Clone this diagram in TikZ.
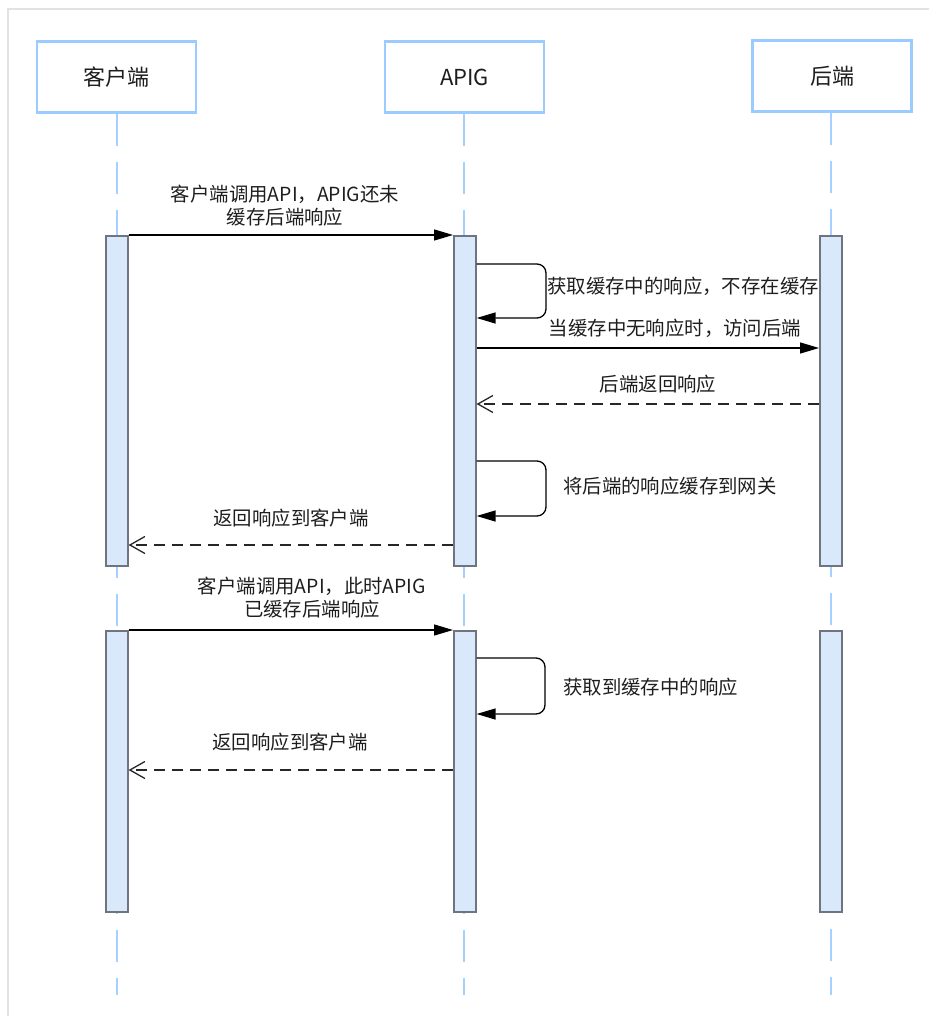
\documentclass[tikz,border=0pt]{standalone}
\usepackage{fontspec}
\setmainfont{Noto Sans CJK SC}
\usetikzlibrary{arrows.meta}
\definecolor{hdrblue}{HTML}{9CCBFF}
\definecolor{lifeblue}{HTML}{A6D0FF}
\definecolor{actfill}{HTML}{DAE8FC}
\definecolor{actdraw}{HTML}{6E7580}
\definecolor{framegray}{HTML}{E2E2E2}
\definecolor{txt}{HTML}{1E1E1E}
\tikzset{
  header/.style={draw=hdrblue, line width=2.5pt, fill=white, minimum width=159pt, minimum height=71pt, inner sep=0pt, font=\fontsize{22}{26}\selectfont, text=txt},
  lifeline/.style={draw=lifeblue, line width=2pt, dash pattern=on 32pt off 16pt},
  actbar/.style={draw=actdraw, line width=1.6pt, fill=actfill, minimum width=22pt, inner sep=0pt, anchor=north west},
  msg/.style={draw=black, line width=1.3pt, -{Triangle[length=19pt,width=11pt]}},
  reply/.style={draw=black!85, line width=1.3pt, dash pattern=on 11pt off 7pt, -{Straight Barb[length=15pt,width=17pt,line width=1.3pt]}},
  selfmsg/.style={draw=black, line width=1.3pt, rounded corners=9pt, -{Triangle[length=19pt,width=11pt]}},
  lbl/.style={font=\fontsize{19.4}{23}\selectfont, text=txt, inner sep=0pt, align=center},
}
\begin{document}
\begin{tikzpicture}[x=1pt,y=-1pt]
\useasboundingbox (0,0) rectangle (928,1016);
\draw[framegray, line width=2pt] (930,9) -- (8,9) -- (8,1018);

% headers
\node[header] (hc) at (116.5,77) {客户端};
\node[header] (ha) at (464.5,77) {APIG};
\node[header] (hb) at (832,76) {后端};

% lifelines
\coordinate (ec) at (116.5,995);
\coordinate (ea) at (464,995);
\coordinate (eb) at (830.5,995);
\draw[lifeline] (hc.south) -- (ec);
\draw[lifeline] (ha.south -| ea) -- (ea);
\draw[lifeline] (hb.south -| eb) -- (eb);

% activation bars
\node[actbar, minimum height=330pt] (c1) at (105,235) {};
\node[actbar, minimum height=330pt] (a1) at (453,235) {};
\node[actbar, minimum height=330pt] (b1) at (819,235) {};
\node[actbar, minimum height=281pt] (c2) at (105,630) {};
\node[actbar, minimum height=281pt] (a2) at (453,630) {};
\node[actbar, minimum height=281pt] (b2) at (819,630) {};

% y levels
\coordinate (y2a) at (546,264);
\coordinate (y2b) at (546,318);
\coordinate (y3) at (0,348);
\coordinate (y4) at (0,404);
\coordinate (y5a) at (546,461);
\coordinate (y5b) at (546,516);
\coordinate (y6) at (0,545);
\coordinate (y8a) at (545,658);
\coordinate (y8b) at (545,714);
\coordinate (y9) at (0,770);

% messages
\draw[msg] (c1.north east) -- (a1.north west);
\node[lbl] (t1) at (285,206) {客户端调用API，APIG还未\\缓存后端响应};

\draw[selfmsg] (a1.east |- y2a) -- (y2a) -- (y2b) -- (a1.east |- y2b);
\node[lbl, anchor=west] (t2) at (547,286) {获取缓存中的响应，不存在缓存};

\draw[msg] (a1.east |- y3) -- (b1.west |- y3);
\node[lbl] (t3) at (675,328) {当缓存中无响应时，访问后端};

\draw[reply] (b1.west |- y4) -- (a1.east |- y4);
\node[lbl] (t4) at (658,384) {后端返回响应};

\draw[selfmsg] (a1.east |- y5a) -- (y5a) -- (y5b) -- (a1.east |- y5b);
\node[lbl, anchor=west] (t5) at (563,486) {将后端的响应缓存到网关};

\draw[reply] (a1.west |- y6) -- (c1.east |- y6);
\node[lbl] (t6) at (291,518) {返回响应到客户端};

\draw[msg] (c2.north east) -- (a2.north west);
\node[lbl] (t7) at (312,598) {客户端调用API，此时APIG\\已缓存后端响应};

\draw[selfmsg] (a2.east |- y8a) -- (y8a) -- (y8b) -- (a2.east |- y8b);
\node[lbl, anchor=west] (t8) at (563,687) {获取到缓存中的响应};

\draw[reply] (a2.west |- y9) -- (c2.east |- y9);
\node[lbl] (t9) at (290,742) {返回响应到客户端};
\end{tikzpicture}
\end{document}
